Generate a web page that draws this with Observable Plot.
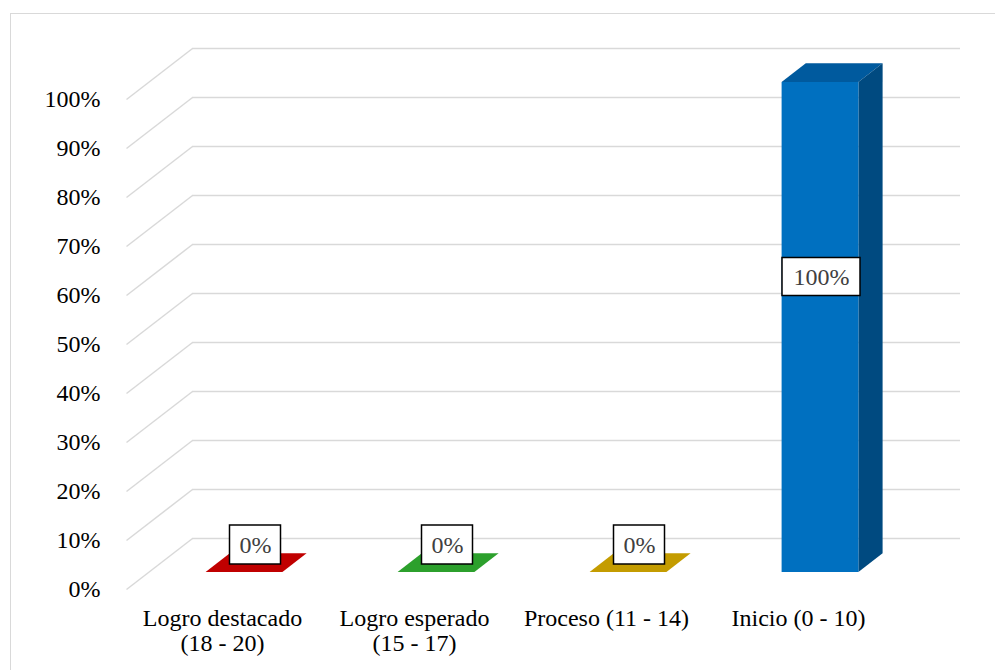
<!DOCTYPE html>
<html>
<head>
<meta charset="utf-8">
<script src="https://cdn.jsdelivr.net/npm/d3@7"></script>
<script src="https://cdn.jsdelivr.net/npm/@observablehq/plot@0.6"></script>
<style>
  html, body { margin: 0; padding: 0; background: #fff; }
  #wrap { position: relative; width: 995px; height: 670px; overflow: hidden; }
  #border { position: absolute; left: 10px; top: 13px; width: 1000px; height: 700px;
            border-left: 1.5px solid #d9d9d9; border-top: 1.5px solid #d9d9d9; box-sizing: border-box; }
  #chart { position: absolute; left: 0; top: 0; }
  #chart svg text { font-family: 'Liberation Serif', 'Times New Roman', serif !important; font-variant: normal !important; font-weight: normal !important; }
</style>
</head>
<body>
<div id="wrap"><div id="border"></div><div id="chart"></div></div>
<script>
// ---- data ----
const categories = ["Logro destacado\n(18 - 20)", "Logro esperado\n(15 - 17)", "Proceso (11 - 14)", "Inicio (0 - 10)"];
const values = [0, 0, 0, 1];
const frontColors = ["#c00000", "#2ca02c", "#c49c00", "#0070c0"];
const topColors = ["#c00000", "#2ca02c", "#c49c00", "#005a9e"];
const sideColors = ["#a00000", "#228022", "#a07f00", "#004a80"];
const yTicks = [0, 0.1, 0.2, 0.3, 0.4, 0.5, 0.6, 0.7, 0.8, 0.9, 1];

// ---- oblique 3D projection (depth expressed in data units) ----
const DX = 66 / 192;   // depth shift along x (category units)
const DY = 51 / 490;   // depth shift along y (value units)
const z1 = 1 / 3, z2 = 0.7;   // bar depth span
const half = 0.2;             // bar half-width (category units)

const bars = categories.map((c, i) => ({i, c, v: values[i], front: frontColors[i], top: topColors[i], side: sideColors[i]}));

const topPts = bars.flatMap(b => [z1, z2].map(z => ({
  i: b.i, color: b.top, y: b.v + z * DY, x1: b.i + 0.5 - half + z * DX, x2: b.i + 0.5 + half + z * DX
})));
const sidePts = bars.filter(b => b.v > 0).flatMap(b => [z1, z2].map(z => ({
  i: b.i, color: b.side, x: b.i + 0.5 + half + z * DX, y1: z * DY, y2: b.v + z * DY
})));
const labelPts = bars.map(b => ({
  i: b.i, v: b.v, text: d3.format(".0%")(b.v),
  x: b.i + 0.5 + 0.5 * DX, y: b.v / 2 + 0.5 * DY
}));
const zeroLabels = labelPts.filter(d => d.v === 0);
const fullLabels = labelPts.filter(d => d.v !== 0);

const font = "'Liberation Serif', 'Times New Roman', serif";

const chart = Plot.plot({
  width: 995,
  height: 670,
  marginLeft: 126,
  marginRight: 35,
  marginTop: 48,
  marginBottom: 81,
  style: {fontFamily: font, fontSize: "24px", color: "#000", background: "transparent"},
  x: {type: "linear", domain: [0, categories.length + DX], axis: null},
  y: {type: "linear", domain: [0, 1 + DY], axis: null},
  color: {type: "identity"},
  marks: [
    // back wall gridlines
    Plot.ruleY(yTicks, {y: d => d + DY, x1: () => DX, x2: () => categories.length + DX, stroke: "#d9d9d9", strokeWidth: 1.5}),
    // side wall diagonals
    Plot.link(yTicks, {x1: () => 0, y1: d => d, x2: () => DX, y2: d => d + DY, stroke: "#d9d9d9", strokeWidth: 1.5}),
    // y axis labels
    Plot.axisY({ticks: yTicks, tickSize: 0, tickPadding: 26, tickFormat: d3.format(".0%"), label: null, fontSize: 24, fontFamily: font, fill: "#000"}),
    // bar top faces
    Plot.areaX(topPts, {y: "y", x1: "x1", x2: "x2", z: "i", fill: "color"}),
    // bar side faces
    Plot.areaY(sidePts, {x: "x", y1: "y1", y2: "y2", z: "i", fill: "color"}),
    // bar front faces
    Plot.rect(bars.filter(b => b.v > 0), {
      x1: b => b.i + 0.5 - half + z1 * DX, x2: b => b.i + 0.5 + half + z1 * DX,
      y1: () => z1 * DY, y2: b => b.v + z1 * DY, fill: "front"
    }),
    // data labels
    Plot.rect(zeroLabels, {x1: "x", x2: "x", y1: "y", y2: "y", dy: -19, insetLeft: -25.5, insetRight: -25.5, insetTop: -19.5, insetBottom: -19.5, fill: "#fff", stroke: "#000", strokeWidth: 1.5}),
    Plot.text(zeroLabels, {x: "x", y: "y", text: "text", dy: -19, fill: "#404040", fontSize: 24, fontFamily: font}),
    Plot.rect(fullLabels, {x1: "x", x2: "x", y1: "y", y2: "y", dx: -10, dy: -42, insetLeft: -39, insetRight: -39, insetTop: -19, insetBottom: -19, fill: "#fff", stroke: "#000", strokeWidth: 1.5}),
    Plot.text(fullLabels, {x: "x", y: "y", text: "text", dx: -10, dy: -42, fill: "#404040", fontSize: 24, fontFamily: font}),
    // category labels
    Plot.text(bars, {x: b => b.i + 0.5, y: () => 0, text: "c", lineAnchor: "top", dy: 18, lineHeight: 1.07, fill: "#000", fontSize: 24, fontFamily: font})
  ]
});
document.getElementById("chart").appendChild(chart);
</script>
</body>
</html>
